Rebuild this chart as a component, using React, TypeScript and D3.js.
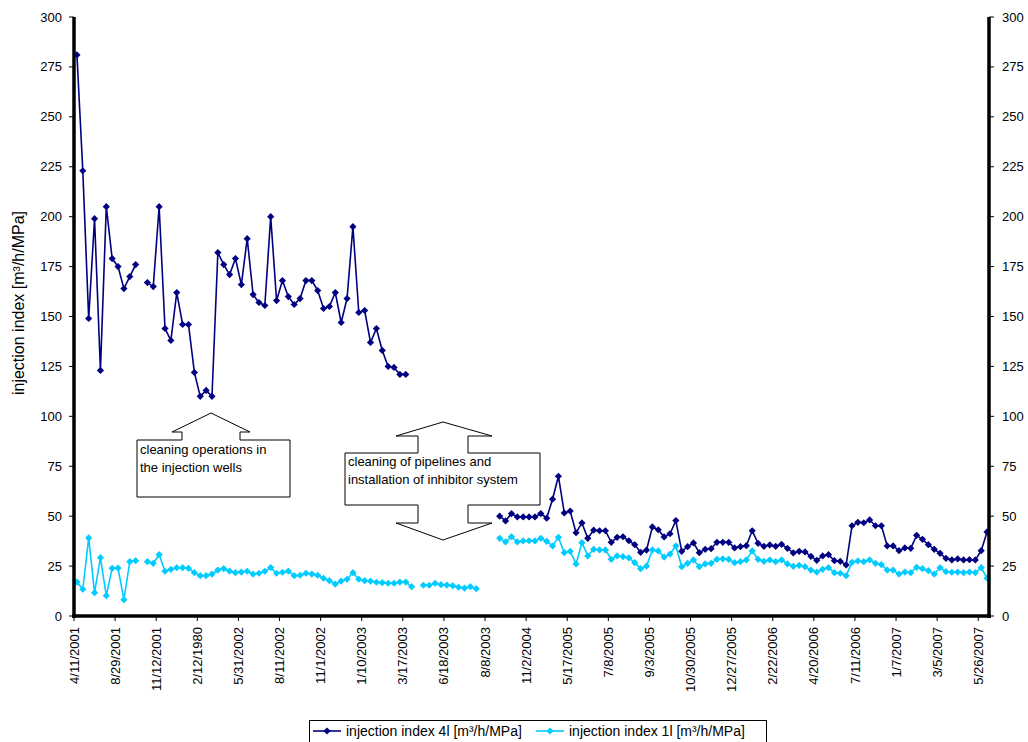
import React from "react";
import * as d3 from "d3";

const tickLabels = [
  "4/11/2001", "8/29/2001", "11/12/2001", "2/12/1980", "5/31/2002", "8/11/2002",
  "11/1/2002", "1/10/2003", "3/17/2003", "6/18/2003", "8/8/2003", "11/2/2004",
  "5/17/2005", "7/8/2005", "9/3/2005", "10/30/2005", "12/27/2005", "2/22/2006",
  "4/20/2006", "7/11/2006", "1/7/2007", "3/5/2007", "5/26/2007",
];
const tickEvery = 7;
const categoryCount = 156;

const series4l: (number | null)[] = [
  281, 223, 149, 199, 123, 205, 179, 175, 164, 170, 176, null, 167, 165, 205, 144, 138, 162, 146, 146,
  122, 110, 113, 110, 182, 176, 171, 179, 166, 189, 161, 157, 155.5, 200, 158, 168, 160, 156, 159, 168,
  168, 163, 154, 155, 162, 147, 159, 195, 152, 153, 137, 144, 133, 125, 124.5, 121, 121,
  null, null, null, null, null, null, null, null, null, null, null, null, null, null, null,
  50, 47.6, 51.3, 49.6, 49.6, 49.6, 49.6, 51.3, 49, 58.5, 70, 51.6, 52.6, 41.7, 46.6, 38.9, 43, 42.7, 42.7, 36.9,
  39.4, 39.7, 37.7, 35.7, 31.9, 33, 44.6, 43.2, 39.6, 41.2, 47.8, 32.4, 34.7, 36.6, 31.7, 33.4, 33.7, 36.9, 36.9, 36.9,
  34.1, 34.7, 35.2, 42.7, 36.4, 34.9, 35.6, 34.9, 35.9, 33.9, 31.6, 32.4, 32.1, 29.9, 27.9, 30.1, 30.7, 27.7, 27.4, 25.6,
  45.2, 46.9, 46.7, 48.1, 45.2, 45.2, 35.1, 35.1, 32.7, 34.1, 33.9, 40.4, 38.4, 35.7, 33.4, 31.4, 28.9, 28.1, 28.6, 28.1,
  28.2, 28.1, 32.7, 42.1,
];

const series1l: (number | null)[] = [
  17, 13.4, 39.1, 11.7, 29.2, 10.2, 23.9, 24, 8.2, 27.2, 27.7, null, 27.2, 26.4, 30.7, 22.4, 23.4, 24.2, 24.2, 23.9,
  21.7, 20.2, 20.2, 21, 23, 23.7, 22.5, 21.7, 22, 22.4, 21, 21.4, 22.4, 24.3, 21.4, 21.9, 22.5, 20.2, 20.4, 21.4,
  21, 20.4, 18.9, 17.7, 16, 17.5, 18.4, 21.7, 18.4, 17.7, 17.5, 16.9, 16.7, 16.4, 16.4, 17, 17, 14.7, null, 15.4,
  15.4, 16.4, 15.7, 15.5, 15.2, 14.4, 14, 14.7, 13.7, null, null, null,
  38.9, 37.1, 39.7, 37.1, 37.6, 37.7, 37.6, 38.9, 37.4, 35.1, 39.4, 31.7, 32.4, 26.1, 36.7, 30.1, 33.4, 33.1, 33.1, 28.4,
  30.1, 29.7, 29.1, 26.7, 23.7, 25, 33.1, 32.6, 29.5, 31, 35.1, 24.7, 26.4, 28.1, 24.7, 26.1, 26.4, 28.4, 28.6, 28.4,
  26.7, 27.2, 28.1, 32.6, 28.4, 27.4, 28.1, 27.2, 28.1, 26.1, 24.9, 25.4, 24.7, 23, 22, 23.4, 24.2, 21.7, 21.4, 20.2,
  26.9, 27.6, 27.2, 28.1, 26.4, 25.7, 23, 23, 21, 22, 21.7, 24.4, 23.7, 22.7, 21, 24.2, 22.2, 21.9, 22, 21.7,
  22, 21.7, 24.2, 18.9,
];

const yTicks = [0, 25, 50, 75, 100, 125, 150, 175, 200, 225, 250, 275, 300];
const seriesNames = ["injection index 4l [m³/h/MPa]", "injection index 1l [m³/h/MPa]"];
const seriesColors = ["#000080", "#00CCFF"];
const yTitle = "injection index [m³/h/MPa]";
const note1 = ["cleaning operations in", "the injection wells"];
const note2 = ["cleaning of pipelines and", "installation of inhibitor system"];

const FONT = "Arial, 'Liberation Sans', sans-serif";

export default function App() {
  const W = 1028, H = 742;
  const left = 74, right = 990, top = 17, bottom = 616;
  const x = d3.scaleBand<number>().domain(d3.range(categoryCount)).range([left, right]);
  const cx = (i: number) => (x(i) as number) + x.bandwidth() / 2;
  const y = d3.scaleLinear().domain([0, 300]).range([bottom, top]);

  const mk = (vals: (number | null)[]) =>
    d3.line<number>()
      .defined((i) => vals[i] != null)
      .x((i) => cx(i))
      .y((i) => y(vals[i] as number))(d3.range(vals.length)) || "";

  const diamond = (r: number) => `M0,${-r}L${r},0L0,${r}L${-r},0Z`;
  const all = [series4l, series1l];
  const tickIdx = tickLabels.map((_, k) => k * tickEvery);

  // annotation 1: up-arrow callout
  const a1 = { l: 137, r: 290, t: 440, b: 497, sl: 182, sr: 240, hb: 432, hl: 172, hr: 250, ax: 211, ay: 413 };
  const p1 = `M${a1.l},${a1.b}L${a1.l},${a1.t}L${a1.sl},${a1.t}L${a1.sl},${a1.hb}L${a1.hl},${a1.hb}L${a1.ax},${a1.ay}L${a1.hr},${a1.hb}L${a1.sr},${a1.hb}L${a1.sr},${a1.t}L${a1.r},${a1.t}L${a1.r},${a1.b}Z`;
  // annotation 2: up-down arrow callout
  const a2 = { l: 345, r: 540, t: 453, b: 505, sl: 418, sr: 468, hu: 436, hd: 523, hl: 396, hr: 492, ax: 443, ayu: 422, ayd: 540 };
  const p2 = `M${a2.l},${a2.b}L${a2.l},${a2.t}L${a2.sl},${a2.t}L${a2.sl},${a2.hu}L${a2.hl},${a2.hu}L${a2.ax},${a2.ayu}L${a2.hr},${a2.hu}L${a2.sr},${a2.hu}L${a2.sr},${a2.t}L${a2.r},${a2.t}L${a2.r},${a2.b}L${a2.sr},${a2.b}L${a2.sr},${a2.hd}L${a2.hr},${a2.hd}L${a2.ax},${a2.ayd}L${a2.hl},${a2.hd}L${a2.sl},${a2.hd}L${a2.sl},${a2.b}Z`;

  return (
    <svg width={W} height={H} style={{ position: "absolute", left: 0, top: 0, background: "#fff" }} fontFamily={FONT}>
      <rect width={W} height={H} fill="#fff" />
      {/* series */}
      {all.map((vals, s) => (
        <g key={s}>
          <path d={mk(vals)} fill="none" stroke={seriesColors[s]} strokeWidth={1.6} />
          {vals.map((v, i) =>
            v == null ? null : (
              <path key={i} d={diamond(3.6)} transform={`translate(${cx(i)},${y(v)})`} fill={seriesColors[s]} />
            )
          )}
        </g>
      ))}
      {/* axes */}
      <line x1={left} x2={left} y1={top} y2={bottom + 2} stroke="#000" strokeWidth={3.5} />
      <line x1={right - 1} x2={right - 1} y1={top} y2={bottom + 2} stroke="#000" strokeWidth={3.5} />
      <line x1={left - 2} x2={right + 1} y1={bottom} y2={bottom} stroke="#000" strokeWidth={3.5} />
      {yTicks.map((t) => (
        <g key={t} fontSize={13}>
          <line x1={left - 5} x2={left} y1={y(t)} y2={y(t)} stroke="#000" />
          <text x={62} y={y(t)} dy="0.35em" textAnchor="end">{t}</text>
          <line x1={right - 1} x2={right + 4} y1={y(t)} y2={y(t)} stroke="#000" />
          <text x={1002} y={y(t)} dy="0.35em" textAnchor="start">{t}</text>
        </g>
      ))}
      {tickIdx.map((i, k) => (
        <g key={i} fontSize={13}>
          <line x1={x(i)} x2={x(i)} y1={bottom} y2={bottom + 5} stroke="#000" />
          <text transform={`translate(${x(i)},${bottom + 11}) rotate(-90)`} dy="0.35em" textAnchor="end">
            {tickLabels[k]}
          </text>
        </g>
      ))}
      <text transform={`translate(18,303) rotate(-90)`} textAnchor="middle" fontSize={16} dy="0.35em">
        {yTitle}
      </text>
      {/* annotations */}
      <path d={p1} fill="#fff" stroke="#000" strokeWidth={1} />
      {note1.map((t, k) => (
        <text key={k} x={140} y={454 + k * 18} fontSize={13}>{t}</text>
      ))}
      <path d={p2} fill="#fff" stroke="#000" strokeWidth={1} />
      {note2.map((t, k) => (
        <text key={k} x={348} y={466 + k * 18} fontSize={13}>{t}</text>
      ))}
      {/* legend */}
      <rect x={309.5} y={720.5} width={457} height={26} fill="#fff" stroke="#000" />
      {seriesNames.map((n, s) => {
        const lx = s === 0 ? 313 : 536;
        return (
          <g key={s}>
            <line x1={lx} x2={lx + 28} y1={731} y2={731} stroke={seriesColors[s]} strokeWidth={1.6} />
            <path d={diamond(3.6)} transform={`translate(${lx + 14},731)`} fill={seriesColors[s]} />
            <text x={lx + 33} y={731} dy="0.35em" fontSize={14}>{n}</text>
          </g>
        );
      })}
    </svg>
  );
}
